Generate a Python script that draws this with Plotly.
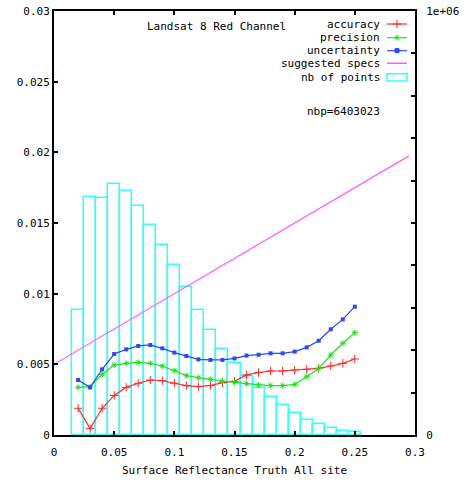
import plotly.graph_objects as go

# ---------------- data ----------------
reflectance = [0.02, 0.03, 0.04, 0.05, 0.06, 0.07, 0.08, 0.09, 0.10, 0.11, 0.12, 0.13,
               0.14, 0.15, 0.16, 0.17, 0.18, 0.19, 0.20, 0.21, 0.22, 0.23, 0.24, 0.25]

accuracy = [0.00189, 0.00045, 0.00189, 0.00280, 0.00337, 0.00366, 0.00389, 0.00384,
            0.00366, 0.00349, 0.00342, 0.00350, 0.00370, 0.00380, 0.00425, 0.00442,
            0.00453, 0.00453, 0.00460, 0.00465, 0.00472, 0.00488, 0.00507, 0.00538]

precision = [0.00337, 0.00342, 0.00430, 0.00495, 0.00507, 0.00514, 0.00507, 0.00488,
             0.00455, 0.00420, 0.00405, 0.00394, 0.00380, 0.00373, 0.00364, 0.00354,
             0.00349, 0.00349, 0.00358, 0.00413, 0.00472, 0.00566, 0.00649, 0.00724]

uncertainty = [0.00389, 0.00337, 0.00465, 0.00573, 0.00606, 0.00630, 0.00637, 0.00613,
               0.00583, 0.00559, 0.00535, 0.00531, 0.00531, 0.00542, 0.00562, 0.00568,
               0.00578, 0.00578, 0.00590, 0.00620, 0.00667, 0.00748, 0.00818, 0.00908]

nb_points = [296000, 561000, 558000, 591000, 576000, 541000, 496000, 449000, 400000,
             349000, 294000, 248000, 204000, 169000, 140000, 112000, 90000, 71000,
             53000, 35000, 26000, 16000, 10000, 7000]

specs_x = [0.0, 0.295]
specs_y = [0.005, 0.01975]

x_ticks = [0, 0.05, 0.1, 0.15, 0.2, 0.25, 0.3]
y_ticks = [0, 0.005, 0.01, 0.015, 0.02, 0.025, 0.03]
y2_ticks = [0, 100000, 200000, 300000, 400000, 500000, 600000, 700000, 800000, 900000, 1000000]
y2_labels = ["0", "", "", "", "", "", "", "", "", "", "1e+06"]

title_text = "Landsat 8 Red Channel"
nbp_text = "nbp=6403023"
x_title = "Surface Reflectance Truth All site"

# ---------------- style ----------------
FONT = "DejaVu Sans Mono"
RED = "#ff2a2a"
GREEN = "#22dd22"
BLUE = "#2a48ff"
MAGENTA = "#ff5cff"
CYAN = "#33ffff"

fig = go.Figure()

# histogram (primary y axis, on the right side)
fig.add_trace(go.Bar(x=reflectance, y=nb_points, width=0.01,
                     marker=dict(color="rgba(0,0,0,0)", line=dict(color=CYAN, width=1.5)),
                     xaxis="x", yaxis="y", showlegend=False))

# lines on the left axis (overlay)
fig.add_trace(go.Scatter(x=specs_x, y=specs_y, mode="lines",
                         line=dict(color=MAGENTA, width=1.2), xaxis="x", yaxis="y2",
                         showlegend=False))
fig.add_trace(go.Scatter(x=reflectance, y=accuracy, mode="lines+markers",
                         line=dict(color=RED, width=1.2),
                         marker=dict(symbol="cross-thin-open", size=6,
                                     line=dict(color=RED, width=1)),
                         xaxis="x", yaxis="y2", showlegend=False))
fig.add_trace(go.Scatter(x=reflectance, y=precision, mode="lines+markers",
                         line=dict(color=GREEN, width=1.2),
                         marker=dict(symbol="asterisk-open", size=5,
                                     line=dict(color=GREEN, width=1)),
                         xaxis="x", yaxis="y2", showlegend=False))
fig.add_trace(go.Scatter(x=reflectance, y=uncertainty, mode="lines+markers",
                         line=dict(color=BLUE, width=1.2),
                         marker=dict(symbol="square", size=4, color=BLUE),
                         xaxis="x", yaxis="y2", showlegend=False))

# ---------------- custom legend (gnuplot style: label, then sample) ----------------
leg_names = ["accuracy", "precision", "uncertainty", "suggested specs", "nb of points"]
leg_y = [0.9693, 0.9370, 0.9064, 0.8767, 0.8436]
sx0, sx1 = 0.9224, 0.9778
annotations = []
shapes = []
for name, yy in zip(leg_names, leg_y):
    annotations.append(dict(x=0.9086, y=yy, xref="paper", yref="paper", text=name,
                            showarrow=False, xanchor="right", yanchor="middle",
                            font=dict(family=FONT, size=11, color="black")))
leg_markers = [(RED, "cross-thin-open", 6), (GREEN, "asterisk-open", 5), (BLUE, "square", 4)]
for (col, sym, sz), yy in zip(leg_markers, leg_y[:3]):
    fig.add_trace(go.Scatter(x=[sx0, sx1], y=[yy, yy],
                             mode="lines", line=dict(color=col, width=1.2),
                             xaxis="x2", yaxis="y3", showlegend=False, cliponaxis=False))
    fig.add_trace(go.Scatter(x=[(sx0 + sx1) / 2], y=[yy], mode="markers",
                             marker=dict(symbol=sym, size=sz, color=col,
                                         line=dict(color=col, width=1)),
                             xaxis="x2", yaxis="y3", showlegend=False, cliponaxis=False))
shapes.append(dict(type="line", xref="paper", yref="paper", x0=sx0, x1=sx1,
                   y0=leg_y[3], y1=leg_y[3], line=dict(color=MAGENTA, width=1.5)))
shapes.append(dict(type="rect", xref="paper", yref="paper", x0=sx0, x1=sx1,
                   y0=leg_y[4] - 0.0085, y1=leg_y[4] + 0.0085,
                   line=dict(color=CYAN, width=1.5), fillcolor="rgba(0,0,0,0)"))

annotations.append(dict(x=0.4515, y=0.9646, xref="paper", yref="paper", text=title_text,
                        showarrow=False, xanchor="center", yanchor="middle",
                        font=dict(family=FONT, size=11, color="black")))
annotations.append(dict(x=0.9086, y=0.7625, xref="paper", yref="paper", text=nbp_text,
                        showarrow=False, xanchor="right", yanchor="middle",
                        font=dict(family=FONT, size=11, color="black")))

axis_font = dict(family=FONT, size=11, color="black")

fig.update_layout(
    width=464, height=481,
    margin=dict(l=54, r=49, t=11, b=46, autoexpand=False),
    paper_bgcolor="white", plot_bgcolor="white",
    font=axis_font,
    showlegend=False,
    bargap=0,
    xaxis=dict(range=[0, 0.3], tickvals=x_ticks, ticks="inside", ticklen=4, tickwidth=1.5,
               tickcolor="black", showline=True, linecolor="black", linewidth=2,
               mirror="ticks", showgrid=False, zeroline=False, automargin=False,
               ticklabelstandoff=6,
               title=dict(text=x_title, font=axis_font, standoff=8),
               tickfont=axis_font),
    yaxis=dict(range=[0, 1000000], side="right", tickvals=y2_ticks, ticktext=y2_labels,
               ticks="inside", ticklen=4, tickwidth=1.5, tickcolor="black",
               showline=True, linecolor="black", linewidth=2, showgrid=False,
               zeroline=False, tickfont=axis_font, ticklabelstandoff=7, automargin=False),
    yaxis2=dict(range=[0, 0.03], side="left", overlaying="y", tickvals=y_ticks,
                ticks="inside", ticklen=4, tickwidth=1.5, tickcolor="black",
                showline=True, linecolor="black", linewidth=2, showgrid=False,
                zeroline=False, tickfont=axis_font, automargin=False),
    xaxis2=dict(range=[0, 1], overlaying="x", visible=False, fixedrange=True),
    yaxis3=dict(range=[0, 1], overlaying="y", visible=False, fixedrange=True),
    annotations=annotations,
    shapes=shapes,
)

fig.write_html("out.html", config={"displayModeBar": False},
               post_script="document.body.style.margin='0';document.body.style.overflow='hidden';")
